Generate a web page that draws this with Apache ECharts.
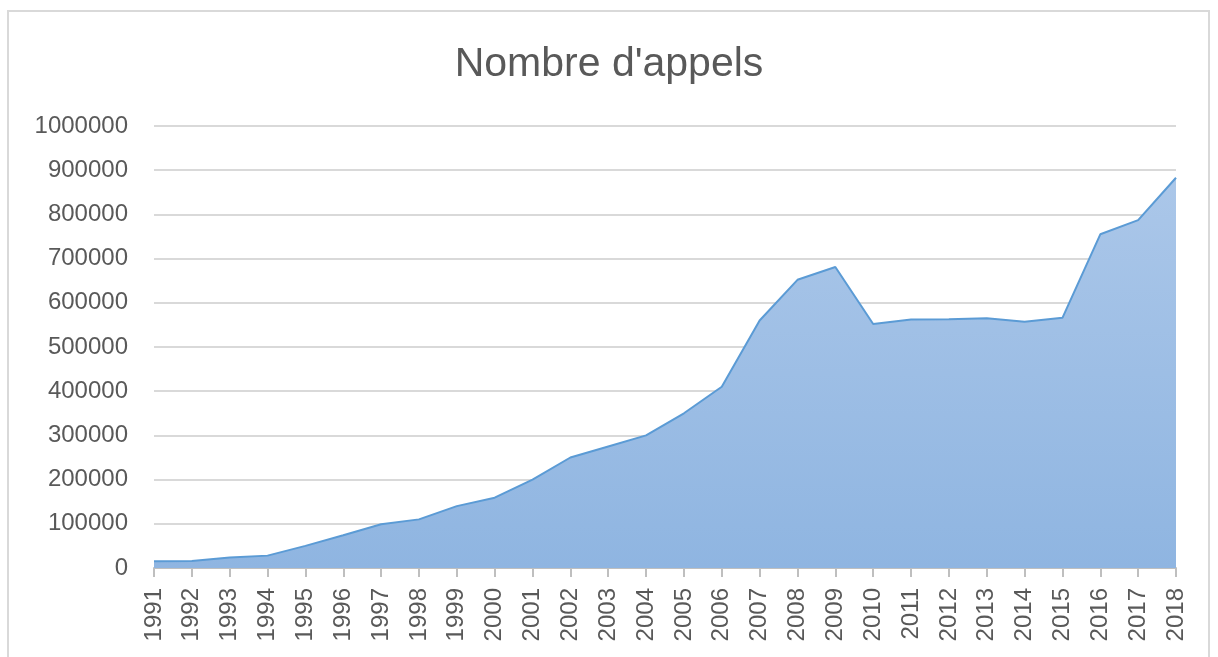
<!DOCTYPE html>
<html>
<head>
<meta charset="utf-8">
<script src="https://cdn.jsdelivr.net/npm/echarts@6/dist/echarts.min.js"></script>
<style>html,body{margin:0;padding:0;background:#fff;}#c{width:1218px;height:657px;}</style>
</head>
<body>
<div id="c"></div>
<script>
const titleText = "Nombre d'appels";
const years = ['1991','1992','1993','1994','1995','1996','1997','1998','1999','2000','2001','2002','2003','2004','2005','2006','2007','2008','2009','2010','2011','2012','2013','2014','2015','2016','2017','2018'];
const appels = [15000,16000,24000,28000,50000,74000,99000,110000,140000,159000,200000,250000,275000,300000,350000,410000,560000,652000,681000,552000,562000,563000,565000,557000,566000,755000,787000,883000];
const yMin = 0, yMax = 1000000, yStep = 100000;

const chart = echarts.init(document.getElementById('c'));
chart.setOption({
  animation: false,
  backgroundColor: '#ffffff',
  graphic: [{
    type: 'rect', silent: true, z: -1,
    shape: { x: 8, y: 11, width: 1201, height: 700 },
    style: { fill: 'none', stroke: '#d9d9d9', lineWidth: 2 }
  }],
  title: {
    text: titleText, left: 'center', top: 39,
    textStyle: { fontFamily: 'Liberation Sans', fontSize: 41, fontWeight: 'normal', color: '#595959' }
  },
  grid: { left: 154, right: 42, top: 126, bottom: 89, containLabel: false },
  xAxis: {
    type: 'category', data: years, boundaryGap: false,
    axisLine: { lineStyle: { color: '#bfbfbf', width: 2 } },
    axisTick: { show: true, length: 9, lineStyle: { color: '#bfbfbf', width: 2 }, alignWithLabel: true },
    axisLabel: { rotate: 90, margin: 20, interval: 0, fontFamily: 'Liberation Sans', fontSize: 24, color: '#595959' },
    splitLine: { show: false }
  },
  yAxis: {
    type: 'value', min: yMin, max: yMax, interval: yStep,
    axisLine: { show: false }, axisTick: { show: false },
    axisLabel: { margin: 26, fontFamily: 'Liberation Sans', fontSize: 24, color: '#595959', formatter: v => String(v) },
    splitLine: { lineStyle: { color: '#d9d9d9', width: 2 } }
  },
  series: [{
    type: 'line', data: appels, symbol: 'none', smooth: false,
    lineStyle: { color: '#5b9bd5', width: 2 },
    areaStyle: {
      opacity: 1,
      color: new echarts.graphic.LinearGradient(0, 0, 0, 1, [
        { offset: 0, color: '#abc7e9' },
        { offset: 1, color: '#8fb5e1' }
      ])
    }
  }]
});
</script>
</body>
</html>
